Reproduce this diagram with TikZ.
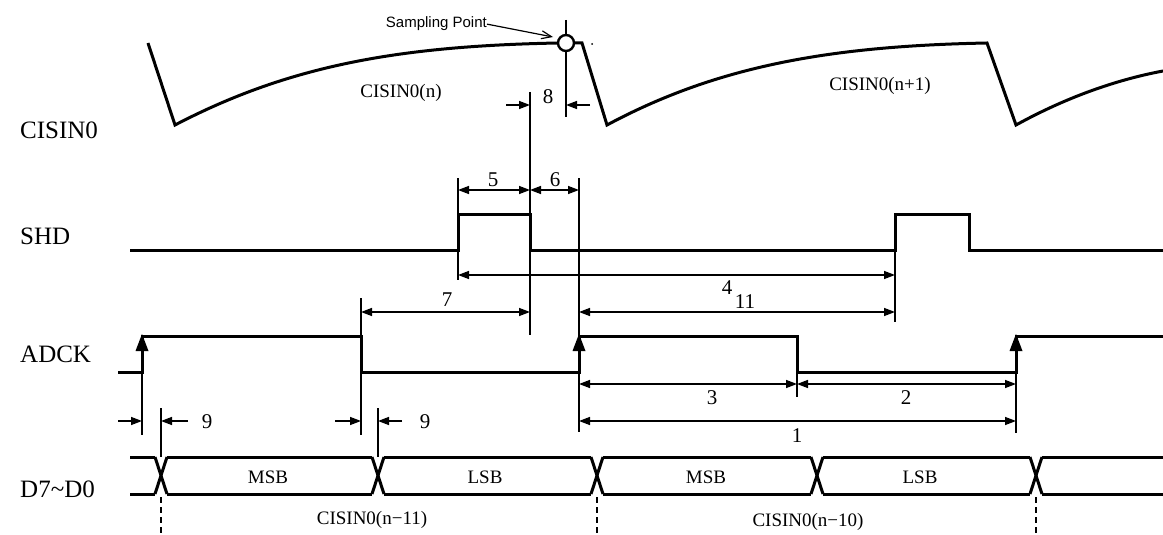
\documentclass[tikz,border=0pt]{standalone}
\usepackage{fontspec}
\setmainfont{Liberation Serif}
\newfontfamily\arialf{Liberation Sans}
\usetikzlibrary{arrows.meta}
\begin{document}
\begin{tikzpicture}[x=1pt,y=-1pt,
  wave/.style={line width=3pt, line join=miter},
  ext/.style={line width=1.4pt},
  dim/.style={line width=1.4pt,{Triangle[length=11pt,width=8pt]}-{Triangle[length=11pt,width=8pt]}},
  rdim/.style={line width=1.4pt,-{Triangle[length=11pt,width=8pt]}},
  lbl/.style={font=\fontsize{25}{28}\selectfont, anchor=base west, inner sep=0pt},
  num/.style={font=\fontsize{21}{24}\selectfont, inner sep=0pt},
  txt/.style={font=\fontsize{19}{22}\selectfont, inner sep=0pt},
  dsh/.style={line width=1.4pt, dash pattern=on 6pt off 4pt},
  upar/.style={fill=black}]
\useasboundingbox (0,0) rectangle (1163,535);

% row labels
\node[lbl] (lcis) at (20,139) {CISIN0};
\node[lbl] (lshd) at (20,244) {SHD};
\node[lbl] (ladck) at (20,362) {ADCK};
\node[lbl] (ld) at (20,497) {D7\textasciitilde D0};

% CISIN0 waveform
\draw[wave] (148,43) -- (175,125) .. controls (290,65) and (400,46) .. (558,43);
\draw[ext] (566,20) -- (566,117);
\draw[line width=2.4pt, fill=white] (566,43) circle (8);
\draw[wave] (574,43) -- (582,43) -- (607,125) .. controls (717,66) and (830,46) .. (987,43) -- (1016,125) .. controls (1065,98) and (1115,80) .. (1163,71);
\fill (592,44) circle (1);
\node[txt] (cn) at (401,93) {CISIN0(n)};
\node[txt] (cn1) at (880,86) {CISIN0(n+1)};

% sampling point
\node[font=\arialf\fontsize{15}{17}\selectfont, anchor=base east, inner sep=0pt] (sp) at (487,28) {Sampling Point};
\coordinate (sptip) at (553,37);
\draw[line width=1.2pt, -{Straight Barb[length=10pt,width=8pt]}] (sp.east) -- (sptip);

% 8
\draw[rdim] (506,105) -- (530,105);
\draw[rdim] (590,105) -- (566,105);
\node[num] (n8) at (548,97) {8};

% SHD
\draw[wave] (130,250) -- (458,250) -- (458,214) -- (530,214) -- (530,250) -- (895,250) -- (895,214) -- (969,214) -- (969,250) -- (1163,250);

% extension lines
\draw[ext] (530,92) -- (530,335);
\draw[ext] (458,178) -- (458,280);
\draw[ext] (579,178) -- (579,432);
\draw[ext] (895,250) -- (895,322);
\draw[ext] (361,298) -- (361,435);
\draw[ext] (142,372) -- (142,435);
\draw[ext] (797,372) -- (797,397);
\draw[ext] (1016,372) -- (1016,433);
\draw[ext] (161,408) -- (161,457);
\draw[ext] (378,408) -- (378,457);

% dimensions
\draw[dim] (458,190) -- (530,190);
\node[num] (n5) at (493,180) {5};
\draw[dim] (530,190) -- (579,190);
\node[num] (n6) at (555,180) {6};
\draw[dim] (458,275) -- (895,275);
\node[num] (n4) at (727,288) {4};
\draw[dim] (579,312) -- (895,312);
\node[num] (n11) at (745,302) {11};
\draw[dim] (361,312) -- (530,312);
\node[num] (n7) at (447,300) {7};
\draw[dim] (579,384) -- (797,384);
\node[num] (n3) at (712,398) {3};
\draw[dim] (797,384) -- (1016,384);
\node[num] (n2) at (906,398) {2};
\draw[dim] (579,421) -- (1016,421);
\node[num] (n1) at (797,436) {1};
\draw[rdim] (118,421) -- (142,421);
\draw[rdim] (188,421) -- (161,421);
\node[num] (n9a) at (207,422) {9};
\draw[rdim] (335,421) -- (361,421);
\draw[rdim] (402,421) -- (378,421);
\node[num] (n9b) at (425,422) {9};

% ADCK
\draw[wave] (118,372) -- (142,372) -- (142,336) -- (361,336) -- (361,372) -- (579,372) -- (579,336) -- (797,336) -- (797,372) -- (1016,372) -- (1016,336) -- (1163,336);
\foreach \x in {142,579,1016}{
  \fill[upar] (\x,334) -- (\x-6.5,351) -- (\x+6.5,351) -- cycle;
}

% data bus
\draw[wave] (130,457) -- (155,457);
\draw[wave] (130,494) -- (155,494);
\foreach \a/\b in {161/378,378/597,597/817,817/1036}{
  \draw[wave] (\a+6,457) -- (\b-6,457);
  \draw[wave] (\a+6,494) -- (\b-6,494);
}
\draw[wave] (1042,457) -- (1163,457);
\draw[wave] (1042,494) -- (1163,494);
\foreach \c in {161,378,597,817,1036}{
  \draw[wave] (\c-6,457) -- (\c+6,494);
  \draw[wave] (\c+6,457) -- (\c-6,494);
}
\node[txt] (m1) at (268,477) {MSB};
\node[txt] (l1) at (485,477) {LSB};
\node[txt] (m2) at (706,477) {MSB};
\node[txt] (l2) at (920,477) {LSB};
\draw[dsh] (161,497) -- (161,535);
\draw[dsh] (597,497) -- (597,535);
\draw[dsh] (1036,497) -- (1036,535);
\node[txt] (c11) at (372,520) {CISIN0(n\textminus 11)};
\node[txt] (c10) at (808,522) {CISIN0(n\textminus 10)};
\end{tikzpicture}
\end{document}
